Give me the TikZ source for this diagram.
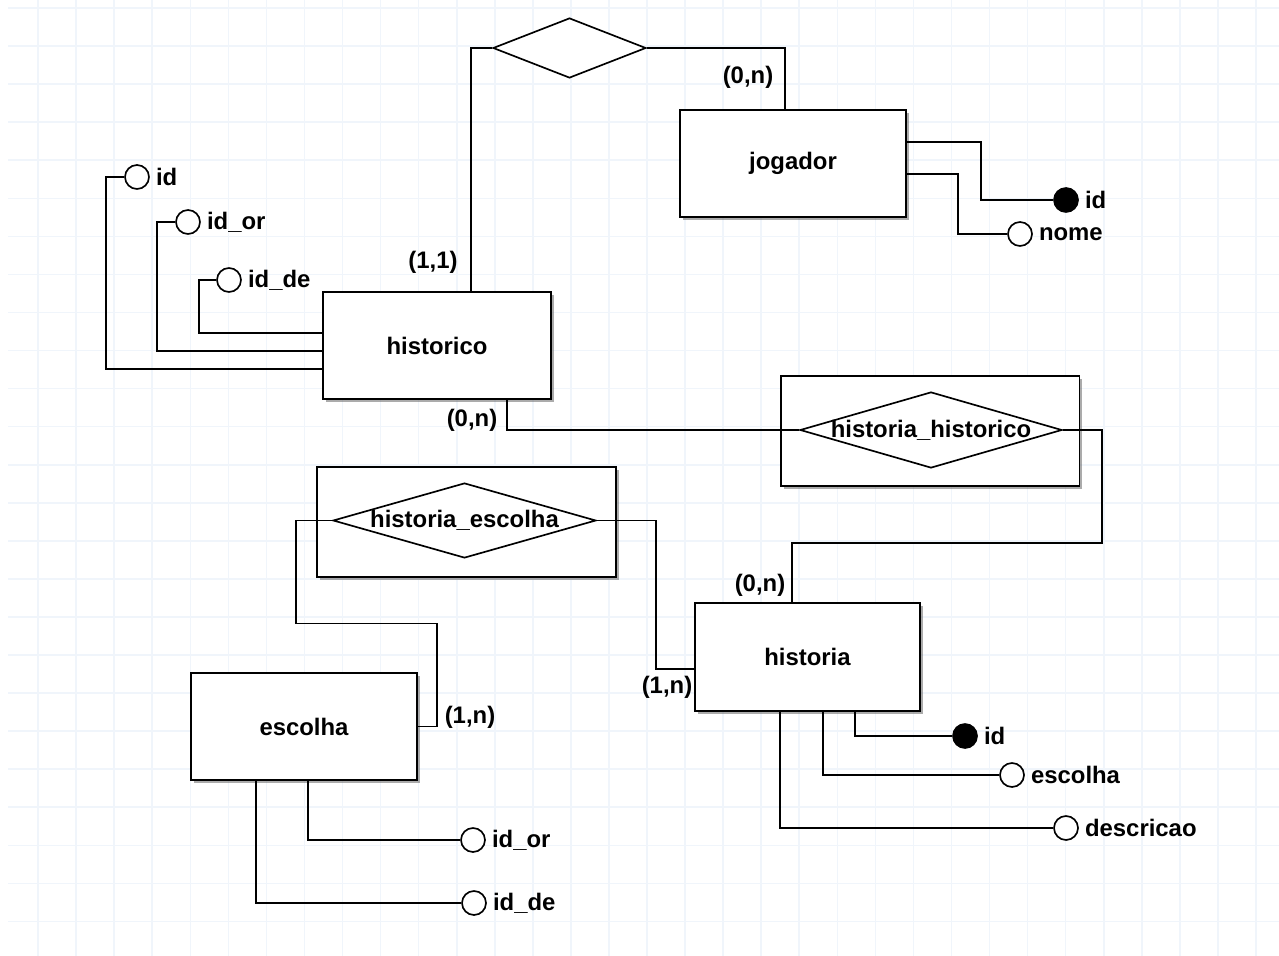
\documentclass[tikz,border=0pt]{standalone}
\usepackage{fontspec}
\setmainfont{Liberation Sans}
\usetikzlibrary{positioning, shapes.geometric, shadows}

\definecolor{gridblue}{RGB}{240,245,251}

\tikzset{
  entity/.style={draw, fill=white, line width=1.1pt, minimum width=4.52cm,
    minimum height=2.14cm, drop shadow={shadow xshift=0.06cm, shadow yshift=-0.06cm, fill=black!65}},
  assocbox/.style={entity, minimum width=5.98cm, minimum height=2.2cm},
  rel/.style={draw, fill=white, diamond, inner sep=0pt, line width=0.95pt,
    minimum width=5.24cm, minimum height=1.52cm},
  attr/.style={draw, circle, fill=white, inner sep=0pt, minimum size=0.48cm, line width=0.95pt,
    label distance=0.05cm},
  keyattr/.style={attr, fill=black},
  card/.style={inner sep=0pt},
  link/.style={line width=0.95pt},
  gridline/.style={gridblue, line width=0.9pt}
}

\begin{document}
\begin{tikzpicture}[x=0.02cm, y=-0.02cm, every node/.style={font=\fontsize{13.6}{16}\selectfont\bfseries}]
    \useasboundingbox[fill=white] (0,0) rectangle (1279,956);
    % background grid
    \foreach \gx in {1,...,33} \draw[gridline] (\gx*38.06,0) -- (\gx*38.06,956);
    \foreach \gy in {0,...,24} \draw[gridline] (8,8+\gy*38.06) -- (1279,8+\gy*38.06);

    % entities
    \node[entity] (jogador) at (793,163.5) {jogador};
    \node[entity, minimum width=4.56cm] (historico) at (437,345.5) {historico};
    \node[entity, minimum width=4.5cm, minimum height=2.16cm] (historia) at (807.5,657) {historia};
    \node[entity] (escolha) at (304,726.5) {escolha};

    % relationships
    \node[rel, minimum width=3.06cm, minimum height=1.2cm] (joga) at (569.5,48) {};
    \node[assocbox] (hhbox) at (930,431) {};
    \node[rel, label=center:{historia\_historico}] (hh) at (931,430) {};
    \node[assocbox] (hebox) at (466.5,522) {};
    \node[rel, minimum width=5.26cm, minimum height=1.5cm, label=center:{historia\_escolha}] (he) at (464.5,520.5) {};

    % attributes
    \node[keyattr, label=right:id] (jid) at (1066,200) {};
    \node[attr, label=right:nome] (jnome) at (1020,234) {};
    \node[attr, label=right:id] (hcid) at (137,177) {};
    \node[attr, label=right:id\_or] (hcor) at (188,222) {};
    \node[attr, label=right:id\_de] (hcde) at (229,280) {};
    \node[keyattr, label=right:id] (haid) at (965,736) {};
    \node[attr, label=right:escolha] (haesc) at (1012,775) {};
    \node[attr, label=right:descricao] (hadesc) at (1066,828) {};
    \node[attr, label=right:id\_or] (eor) at (473,840) {};
    \node[attr, label=right:id\_de] (ede) at (474,903) {};

    % cardinalities
    \node[card] (c1) at (748,77) {(0,n)};
    \node[card] (c2) at (433,262) {(1,1)};
    \node[card] (c3) at (472,420) {(0,n)};
    \node[card] (c4) at (760,585) {(0,n)};
    \node[card] (c5) at (667,687) {(1,n)};
    \node[card] (c6) at (470,717) {(1,n)};

    % connectors
    \draw[link] (joga.west) -| ([xshift=0.68cm]historico.north);
    \draw[link] (joga.east) -| ([xshift=-0.16cm]jogador.north);
    \draw[link] ([xshift=1.4cm]historico.south) |- (hh.west);
    \draw[link] (hh.east) -- ++(39,0) -- ++(0,113) -| ([xshift=-0.31cm]historia.north);
    \draw[link] (he.west) -- ++(-36,0) -- ++(0,103) -- ++(141,0) |- (escolha.east);
    \draw[link] (he.east) -- ++(59,0) |- ([yshift=-0.24cm]historia.west);

    \draw[link] ([yshift=0.43cm]jogador.east) -- ++(74,0) |- (jid);
    \draw[link] ([yshift=-0.21cm]jogador.east) -- ++(51,0) |- (jnome);
    \draw[link] ([yshift=-0.47cm]historico.west) -- ++(-216,0) |- (hcid);
    \draw[link] ([yshift=-0.11cm]historico.west) -- ++(-165,0) |- (hcor);
    \draw[link] ([yshift=0.25cm]historico.west) -- ++(-123,0) |- (hcde);
    \draw[link] ([xshift=0.95cm]historia.south) |- (haid);
    \draw[link] ([xshift=0.31cm]historia.south) |- (haesc);
    \draw[link] ([xshift=-0.55cm]historia.south) |- (hadesc);
    \draw[link] ([xshift=0.08cm]escolha.south) |- (eor);
    \draw[link] ([xshift=-0.96cm]escolha.south) |- (ede);
\end{tikzpicture}
\end{document}
